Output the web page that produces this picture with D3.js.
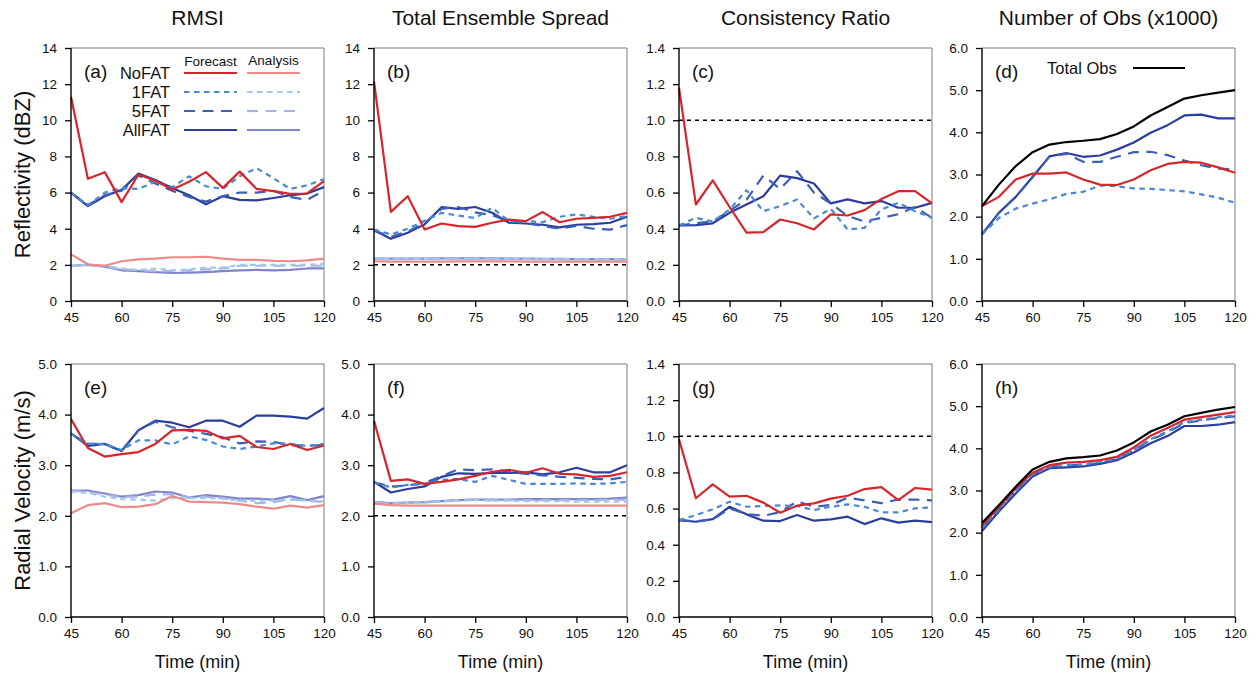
<!DOCTYPE html>
<html>
<head>
<meta charset="utf-8">
<script src="https://cdn.jsdelivr.net/npm/d3@7"></script>
<style>
  html, body { margin: 0; padding: 0; background: #fff; }
  svg { display: block; font-family: "Liberation Sans", Arial, Helvetica, sans-serif; }
</style>
</head>
<body>
<svg id="chart" width="1256" height="673"></svg>
<script>
// ---- data -------------------------------------------------------------
const times = [45, 50, 55, 60, 65, 70, 75, 80, 85, 90, 95, 100, 105, 110, 115, 120];
const xTicks = [45, 60, 75, 90, 105, 120];
const columnTitles = ["RMSI", "Total Ensemble Spread", "Consistency Ratio", "Number of Obs (x1000)"];
const rowTitles = ["Reflectivity (dBZ)", "Radial Velocity (m/s)"];
const panelLetters = ["(a)", "(b)", "(c)", "(d)", "(e)", "(f)", "(g)", "(h)"];
const experiments = ["NoFAT", "1FAT", "5FAT", "AllFAT"];

// (a) reflectivity RMSI
const aNoFATfc  = [11.3, 6.76, 7.13, 5.47, 7.0, 6.65, 6.17, 6.6, 7.13, 6.26, 7.16, 6.2, 6.08, 5.93, 5.95, 6.63];
const a1FATfc   = [6.0, 5.3, 6.0, 6.25, 6.2, 6.6, 6.3, 6.9, 6.35, 6.2, 6.9, 7.35, 6.8, 6.2, 6.4, 6.75];
const a5FATfc   = [6.0, 5.3, 5.85, 6.1, 6.95, 6.5, 6.1, 5.75, 5.5, 5.8, 6.0, 6.0, 6.1, 5.75, 5.6, 6.1];
const aAllFATfc = [5.98, 5.25, 5.8, 6.15, 7.05, 6.7, 6.25, 5.85, 5.35, 5.8, 5.6, 5.57, 5.7, 5.85, 5.95, 6.3];
const aNoFATan  = [2.58, 2.03, 1.95, 2.2, 2.3, 2.35, 2.42, 2.42, 2.45, 2.35, 2.28, 2.28, 2.22, 2.2, 2.25, 2.35];
const a1FATan   = [1.95, 2.0, 1.95, 1.8, 1.72, 1.8, 1.7, 1.75, 1.85, 1.85, 2.0, 2.0, 2.0, 2.0, 2.0, 2.05];
const a5FATan   = [1.95, 2.0, 1.9, 1.75, 1.7, 1.65, 1.65, 1.7, 1.75, 1.8, 1.95, 1.95, 1.95, 1.95, 1.95, 1.95];
const aAllFATan = [1.95, 2.0, 1.9, 1.7, 1.65, 1.6, 1.55, 1.57, 1.6, 1.65, 1.7, 1.72, 1.7, 1.72, 1.8, 1.8];

// (b) reflectivity total ensemble spread
const bNoFATfc  = [12.15, 4.93, 5.8, 3.96, 4.29, 4.14, 4.1, 4.33, 4.5, 4.42, 4.92, 4.36, 4.55, 4.6, 4.66, 4.88];
const b1FATfc   = [3.96, 3.68, 4.0, 4.44, 4.88, 4.73, 4.59, 5.16, 4.42, 4.42, 4.36, 4.66, 4.79, 4.66, 4.55, 4.7];
const b5FATfc   = [3.9, 3.55, 3.85, 4.3, 5.1, 5.2, 4.9, 4.75, 4.4, 4.3, 4.15, 4.0, 4.15, 4.0, 3.95, 4.2];
const bAllFATfc = [3.92, 3.44, 3.78, 4.24, 5.19, 5.1, 5.2, 4.88, 4.33, 4.29, 4.22, 4.07, 4.22, 4.25, 4.33, 4.66];
const bNoFATan  = [2.2, 2.18, 2.18, 2.18, 2.18, 2.19, 2.19, 2.19, 2.19, 2.18, 2.18, 2.18, 2.18, 2.18, 2.18, 2.18];
const b1FATan   = [2.33, 2.32, 2.32, 2.33, 2.33, 2.34, 2.34, 2.34, 2.33, 2.32, 2.32, 2.31, 2.31, 2.3, 2.3, 2.3];
const b5FATan   = [2.34, 2.33, 2.33, 2.34, 2.35, 2.35, 2.35, 2.35, 2.34, 2.33, 2.32, 2.32, 2.31, 2.31, 2.3, 2.3];
const bAllFATan = [2.35, 2.34, 2.34, 2.35, 2.36, 2.36, 2.36, 2.36, 2.35, 2.34, 2.33, 2.33, 2.32, 2.32, 2.32, 2.32];

// (c) reflectivity consistency ratio
const cNoFATfc  = [1.18, 0.534, 0.667, 0.52, 0.378, 0.381, 0.451, 0.43, 0.396, 0.479, 0.473, 0.503, 0.565, 0.608, 0.608, 0.54];
const c1FATfc   = [0.418, 0.46, 0.44, 0.506, 0.613, 0.497, 0.525, 0.562, 0.457, 0.51, 0.396, 0.405, 0.506, 0.543, 0.497, 0.46];
const c5FATfc   = [0.418, 0.43, 0.44, 0.5, 0.56, 0.694, 0.62, 0.718, 0.6, 0.54, 0.47, 0.44, 0.46, 0.48, 0.52, 0.46];
const cAllFATfc = [0.418, 0.42, 0.43, 0.488, 0.534, 0.58, 0.694, 0.68, 0.65, 0.54, 0.562, 0.54, 0.553, 0.516, 0.516, 0.543];

// (d) number of reflectivity obs (x1000)
const dTotal  = [2.25, 2.76, 3.2, 3.53, 3.71, 3.77, 3.8, 3.84, 3.96, 4.14, 4.4, 4.6, 4.8, 4.88, 4.94, 5.0];
const dNoFAT  = [2.25, 2.47, 2.88, 3.02, 3.02, 3.05, 2.88, 2.76, 2.75, 2.88, 3.1, 3.25, 3.3, 3.28, 3.17, 3.04];
const d1FAT   = [1.58, 1.97, 2.19, 2.31, 2.41, 2.54, 2.59, 2.74, 2.72, 2.67, 2.66, 2.63, 2.6, 2.53, 2.45, 2.33];
const d5FAT   = [1.58, 2.09, 2.47, 2.94, 3.43, 3.49, 3.3, 3.3, 3.42, 3.53, 3.54, 3.46, 3.33, 3.22, 3.14, 3.12];
const dAllFAT = [1.58, 2.09, 2.47, 2.94, 3.43, 3.51, 3.42, 3.45, 3.59, 3.76, 3.99, 4.17, 4.4, 4.42, 4.33, 4.33];

// (e) radial velocity RMSI
const eNoFATfc  = [3.91, 3.34, 3.17, 3.22, 3.26, 3.42, 3.69, 3.7, 3.68, 3.53, 3.58, 3.36, 3.32, 3.42, 3.3, 3.39];
const e1FATfc   = [3.62, 3.42, 3.42, 3.3, 3.49, 3.49, 3.41, 3.57, 3.5, 3.37, 3.32, 3.37, 3.43, 3.42, 3.38, 3.42];
const e5FATfc   = [3.62, 3.42, 3.42, 3.28, 3.69, 3.86, 3.75, 3.68, 3.62, 3.55, 3.43, 3.47, 3.46, 3.4, 3.38, 3.4];
const eAllFATfc = [3.63, 3.38, 3.42, 3.28, 3.69, 3.88, 3.84, 3.75, 3.88, 3.88, 3.76, 3.98, 3.98, 3.96, 3.92, 4.13];
const eNoFATan  = [2.05, 2.21, 2.25, 2.17, 2.18, 2.23, 2.39, 2.28, 2.27, 2.26, 2.23, 2.18, 2.14, 2.2, 2.16, 2.21];
const e1FATan   = [2.48, 2.45, 2.38, 2.33, 2.32, 2.3, 2.35, 2.35, 2.35, 2.34, 2.3, 2.3, 2.3, 2.32, 2.3, 2.28];
const e5FATan   = [2.5, 2.47, 2.42, 2.37, 2.38, 2.42, 2.43, 2.36, 2.38, 2.35, 2.3, 2.25, 2.27, 2.33, 2.3, 2.27];
const eAllFATan = [2.5, 2.5, 2.44, 2.38, 2.41, 2.48, 2.46, 2.36, 2.41, 2.38, 2.34, 2.34, 2.32, 2.39, 2.31, 2.39];

// (f) radial velocity total ensemble spread
const fNoFATfc  = [3.88, 2.69, 2.72, 2.63, 2.67, 2.72, 2.79, 2.87, 2.91, 2.85, 2.94, 2.83, 2.82, 2.77, 2.79, 2.86];
const f1FATfc   = [2.66, 2.56, 2.61, 2.63, 2.71, 2.73, 2.67, 2.79, 2.71, 2.63, 2.63, 2.63, 2.64, 2.63, 2.64, 2.67];
const f5FATfc   = [2.66, 2.58, 2.6, 2.65, 2.78, 2.92, 2.9, 2.92, 2.87, 2.83, 2.8, 2.77, 2.75, 2.73, 2.72, 2.77];
const fAllFATfc = [2.67, 2.46, 2.53, 2.58, 2.77, 2.84, 2.83, 2.85, 2.85, 2.86, 2.82, 2.86, 2.95, 2.86, 2.86, 3.0];
const fNoFATan  = [2.24, 2.21, 2.2, 2.2, 2.2, 2.2, 2.2, 2.2, 2.2, 2.2, 2.2, 2.2, 2.2, 2.2, 2.2, 2.2];
const f1FATan   = [2.26, 2.24, 2.25, 2.26, 2.28, 2.3, 2.31, 2.3, 2.3, 2.29, 2.29, 2.29, 2.28, 2.28, 2.28, 2.28];
const f5FATan   = [2.27, 2.25, 2.26, 2.27, 2.29, 2.31, 2.32, 2.31, 2.31, 2.31, 2.31, 2.31, 2.31, 2.31, 2.32, 2.32];
const fAllFATan = [2.27, 2.25, 2.26, 2.27, 2.29, 2.31, 2.32, 2.32, 2.32, 2.33, 2.33, 2.33, 2.33, 2.33, 2.34, 2.36];

// (g) radial velocity consistency ratio
const gNoFATfc  = [0.984, 0.657, 0.734, 0.666, 0.671, 0.633, 0.577, 0.616, 0.629, 0.655, 0.671, 0.708, 0.719, 0.647, 0.714, 0.705];
const g1FATfc   = [0.536, 0.564, 0.596, 0.638, 0.61, 0.614, 0.618, 0.614, 0.592, 0.61, 0.623, 0.61, 0.579, 0.579, 0.601, 0.607];
const g5FATfc   = [0.536, 0.53, 0.54, 0.6, 0.57, 0.56, 0.58, 0.64, 0.61, 0.62, 0.66, 0.645, 0.63, 0.65, 0.65, 0.645];
const gAllFATfc = [0.536, 0.527, 0.542, 0.61, 0.568, 0.533, 0.531, 0.564, 0.533, 0.54, 0.555, 0.514, 0.546, 0.522, 0.533, 0.525];

// (h) number of radial velocity obs (x1000)
const hTotal  = [2.23, 2.65, 3.09, 3.5, 3.68, 3.76, 3.79, 3.83, 3.95, 4.14, 4.4, 4.56, 4.76, 4.84, 4.92, 4.98];
const hNoFAT  = [2.17, 2.6, 3.05, 3.42, 3.6, 3.66, 3.68, 3.72, 3.8, 4.02, 4.3, 4.48, 4.68, 4.74, 4.8, 4.86];
const h1FAT   = [2.1, 2.55, 3.0, 3.38, 3.56, 3.6, 3.62, 3.68, 3.76, 3.96, 4.22, 4.4, 4.62, 4.68, 4.74, 4.78];
const h5FAT   = [2.1, 2.55, 3.0, 3.37, 3.56, 3.6, 3.6, 3.66, 3.75, 3.95, 4.2, 4.38, 4.6, 4.66, 4.72, 4.76];
const hAllFAT = [2.04, 2.5, 2.93, 3.33, 3.53, 3.55, 3.57, 3.63, 3.72, 3.9, 4.12, 4.29, 4.53, 4.53, 4.56, 4.62];

// ---- line styles ------------------------------------------------------
const styles = {
  NoFAT_fc:  { color: "#d7262b", dash: null },
  "1FAT_fc": { color: "#4a88d4", dash: "5.5,4.5" },
  "5FAT_fc": { color: "#3d5fb5", dash: "11,7.5" },
  AllFAT_fc: { color: "#2d3d9c", dash: null },
  NoFAT_an:  { color: "#ec8a8c", dash: null },
  "1FAT_an": { color: "#9cc9ee", dash: "5.5,4.5" },
  "5FAT_an": { color: "#a7b3e2", dash: "11,7.5" },
  AllFAT_an: { color: "#8284c9", dash: null },
  Total:     { color: "#000000", dash: null }
};

// ---- panel definitions ------------------------------------------------
const withAnalysis = (fc, an) => [
  { key: "AllFAT_an", v: an[3] }, { key: "5FAT_an", v: an[2] },
  { key: "1FAT_an", v: an[1] }, { key: "NoFAT_an", v: an[0] },
  { key: "AllFAT_fc", v: fc[3] }, { key: "5FAT_fc", v: fc[2] },
  { key: "1FAT_fc", v: fc[1] }, { key: "NoFAT_fc", v: fc[0] }
];
const forecastOnly = fc => [
  { key: "AllFAT_fc", v: fc[3] }, { key: "5FAT_fc", v: fc[2] },
  { key: "1FAT_fc", v: fc[1] }, { key: "NoFAT_fc", v: fc[0] }
];
const obsCounts = (fc, total) => forecastOnly(fc).concat([{ key: "Total", v: total }]);

const panels = [
  { row: 0, col: 0, ymax: 14, step: 2, fmt: d3.format("d"), ref: null,
    series: withAnalysis([aNoFATfc, a1FATfc, a5FATfc, aAllFATfc], [aNoFATan, a1FATan, a5FATan, aAllFATan]) },
  { row: 0, col: 1, ymax: 14, step: 2, fmt: d3.format("d"), ref: 2,
    series: withAnalysis([bNoFATfc, b1FATfc, b5FATfc, bAllFATfc], [bNoFATan, b1FATan, b5FATan, bAllFATan]) },
  { row: 0, col: 2, ymax: 1.4, step: 0.2, fmt: d3.format(".1f"), ref: 1,
    series: forecastOnly([cNoFATfc, c1FATfc, c5FATfc, cAllFATfc]) },
  { row: 0, col: 3, ymax: 6, step: 1, fmt: d3.format(".1f"), ref: null,
    series: obsCounts([dNoFAT, d1FAT, d5FAT, dAllFAT], dTotal) },
  { row: 1, col: 0, ymax: 5, step: 1, fmt: d3.format(".1f"), ref: null,
    series: withAnalysis([eNoFATfc, e1FATfc, e5FATfc, eAllFATfc], [eNoFATan, e1FATan, e5FATan, eAllFATan]) },
  { row: 1, col: 1, ymax: 5, step: 1, fmt: d3.format(".1f"), ref: 2,
    series: withAnalysis([fNoFATfc, f1FATfc, f5FATfc, fAllFATfc], [fNoFATan, f1FATan, f5FATan, fAllFATan]) },
  { row: 1, col: 2, ymax: 1.4, step: 0.2, fmt: d3.format(".1f"), ref: 1,
    series: forecastOnly([gNoFATfc, g1FATfc, g5FATfc, gAllFATfc]) },
  { row: 1, col: 3, ymax: 6, step: 1, fmt: d3.format(".1f"), ref: null,
    series: obsCounts([hNoFAT, h1FAT, h5FAT, hAllFAT], hTotal) }
];

// ---- layout -----------------------------------------------------------
const colLeft = [71, 374, 679, 982];
const rowTop = [48, 364];
const pw = 253, ph = 253;

const svg = d3.select("#chart");

// column titles
svg.selectAll("text.coltitle").data(columnTitles).join("text")
  .attr("class", "coltitle")
  .attr("x", (d, i) => colLeft[i] + pw / 2)
  .attr("y", 25)
  .attr("text-anchor", "middle")
  .attr("font-size", 21)
  .attr("fill", "#111")
  .text(d => d);

// row titles
svg.selectAll("text.rowtitle").data(rowTitles).join("text")
  .attr("class", "rowtitle")
  .attr("transform", (d, i) => `translate(30,${rowTop[i] + ph / 2}) rotate(-90)`)
  .attr("text-anchor", "middle")
  .attr("font-size", 22)
  .attr("fill", "#111")
  .text(d => d);

panels.forEach((p, idx) => {
  const x0 = colLeft[p.col], y0 = rowTop[p.row];
  const g = svg.append("g").attr("transform", `translate(${x0},${y0})`);
  const x = d3.scaleLinear().domain([45, 120]).range([0, pw]);
  const y = d3.scaleLinear().domain([0, p.ymax]).range([ph, 0]);
  const yTicks = d3.range(0, p.ymax + p.step / 2, p.step);

  // frame: top/right in thin gray
  g.append("path")
    .attr("d", `M0,0H${pw}V${ph}`)
    .attr("fill", "none").attr("stroke", "#7a7a7a").attr("stroke-width", 1);

  // reference line
  if (p.ref !== null) {
    g.append("line")
      .attr("x1", 0).attr("x2", pw)
      .attr("y1", y(p.ref)).attr("y2", y(p.ref))
      .attr("stroke", "#000").attr("stroke-width", 1.5)
      .attr("stroke-dasharray", "4,4");
  }

  // series
  const line = d3.line().x((d, i) => x(times[i])).y(d => y(d));
  g.selectAll("path.series").data(p.series).join("path")
    .attr("class", "series")
    .attr("d", d => line(d.v))
    .attr("fill", "none")
    .attr("stroke", d => styles[d.key].color)
    .attr("stroke-width", 2.2)
    .attr("stroke-linejoin", "round")
    .attr("stroke-dasharray", d => styles[d.key].dash);

  // axes
  const xa = g.append("g").attr("transform", `translate(0,${ph})`)
    .call(d3.axisBottom(x).tickValues(xTicks).tickSize(6).tickPadding(5).tickFormat(d3.format("d")));
  const ya = g.append("g")
    .call(d3.axisLeft(y).tickValues(yTicks).tickSize(6).tickPadding(8).tickFormat(p.fmt));
  [xa, ya].forEach(a => {
    a.select(".domain").attr("stroke", "#000").attr("stroke-width", 1.4);
    a.selectAll(".tick line").attr("stroke", "#000").attr("stroke-width", 1.3);
    a.selectAll(".tick text").attr("font-size", 13.5).attr("fill", "#111")
      .attr("font-family", "'Liberation Sans', Arial, sans-serif");
  });
  xa.select(".domain").attr("d", `M0,0H${pw}`);
  ya.select(".domain").attr("d", `M0,0V${ph}`);

  // panel letter
  g.append("text")
    .attr("x", 13).attr("y", 30)
    .attr("font-size", 19).attr("fill", "#111")
    .text(panelLetters[idx]);

  // x-axis title on bottom row
  if (p.row === 1) {
    g.append("text")
      .attr("x", pw / 2).attr("y", ph + 51)
      .attr("text-anchor", "middle")
      .attr("font-size", 18).attr("fill", "#111")
      .text("Time (min)");
  }

  // legends
  if (idx === 0) {
    const lg = g.append("g");
    const fcX = [184 - x0, 237 - x0], anX = [247 - x0, 300 - x0];
    lg.append("text").attr("x", (fcX[0] + fcX[1]) / 2).attr("y", 67 - y0 - 1)
      .attr("text-anchor", "middle").attr("font-size", 13.5).attr("fill", "#111").text("Forecast");
    lg.append("text").attr("x", (anX[0] + anX[1]) / 2).attr("y", 67 - y0 - 2)
      .attr("text-anchor", "middle").attr("font-size", 13.5).attr("fill", "#111").text("Analysis");
    experiments.forEach((e, i) => {
      const ly = 73 - y0 + i * 19;
      lg.append("text").attr("x", 170 - x0).attr("y", ly + 6)
        .attr("text-anchor", "end").attr("font-size", 16.5).attr("fill", "#111").text(e);
      [["fc", fcX], ["an", anX]].forEach(([t, xs]) => {
        const s = styles[`${e}_${t}`];
        lg.append("line").attr("x1", xs[0]).attr("x2", xs[1]).attr("y1", ly).attr("y2", ly)
          .attr("stroke", s.color).attr("stroke-width", 2.2).attr("stroke-dasharray", s.dash);
      });
    });
  }
  if (idx === 3) {
    g.append("text").attr("x", 1047 - x0).attr("y", 68 - y0 + 6)
      .attr("font-size", 16.5).attr("fill", "#111").text("Total Obs");
    g.append("line").attr("x1", 1133 - x0).attr("x2", 1185 - x0)
      .attr("y1", 68 - y0).attr("y2", 68 - y0)
      .attr("stroke", styles.Total.color).attr("stroke-width", 2.2);
  }
});
</script>
</body>
</html>
